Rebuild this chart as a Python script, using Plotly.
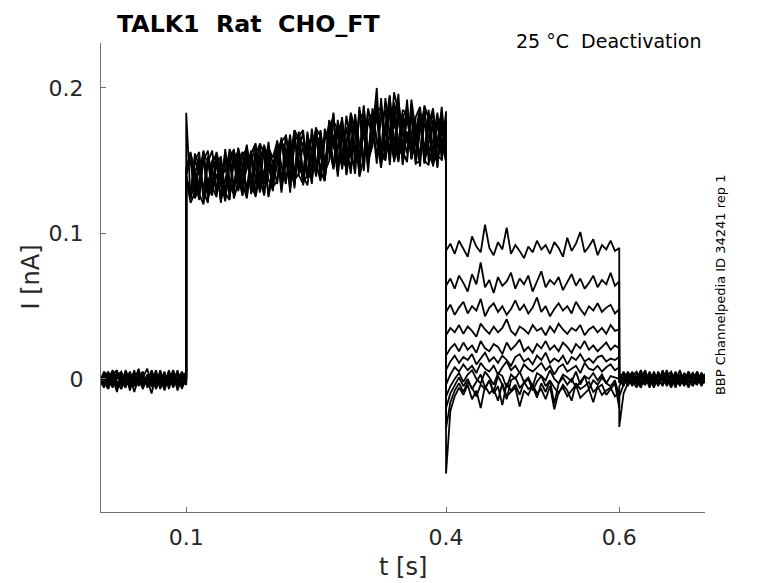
import numpy as np
import plotly.graph_objects as go

# sampling times (ms) of the four protocol segments, 5 ms apart
t_pre = np.arange(0, 101, 5)      # holding
t_step = np.arange(100, 401, 5)   # activating step
t_tail = np.arange(400, 601, 5)   # deactivation steps
t_post = np.arange(600, 701, 5)   # back to holding
t_ms = np.concatenate([t_pre, t_step, t_tail, t_post])

# current of each sweep, in pA
# (rows: holding 0-100 ms, step 100-400 ms, tail 400-600 ms, holding 600-700 ms)
sweep_01 = [
    -2, 4, -6, 1, -9, 3, -1, 5, -4, 0, -7, 2, -3, 6, -5, 1, -2, 4, -8, 2, 1,
    183, 124, 151, 140, 157, 126, 129, 152, 138, 122, 149,
    158, 131, 143, 160, 128, 155, 161, 127, 146, 133,
    147, 166, 136, 152, 171, 140, 134, 168, 155, 139,
    171, 148, 160, 183, 143, 177, 156, 145, 182, 161,
    151, 186, 168, 200, 149, 155, 190, 164, 152, 181,
    162, 183, 148, 150, 176, 165, 185, 146, 172, 158,
    88, 93, 86, 95, 89, 84, 98, 91, 87, 106, 90, 85, 94, 89, 104, 86, 92, 88, 83, 91,
    87, 95, 89, 92, 86, 94, 90, 84, 97, 88, 93, 101, 87, 91, 96, 85, 92, 89, 95, 88, 90,
    2, -3, 4, -1, -6, 3, 0, -4, 5, -2, 1, -5, 3, -1, 6, -3, 0, 4, -2, 2, -1,
]
sweep_02 = [
    3, -5, 0, -3, 5, -2, -6, 2, -1, 4, -4, 0, -10, 3, -2, -5, 5, -3, 0, -6, 3,
    145, 156, 137, 123, 153, 150, 129, 141, 124, 154, 133,
    127, 159, 146, 130, 155, 162, 138, 126, 157, 149,
    134, 163, 167, 145, 133, 158, 169, 139, 151, 172,
    141, 165, 174, 146, 158, 180, 140, 163, 176, 148,
    188, 153, 170, 182, 158, 150, 194, 165, 149, 180,
    186, 167, 151, 178, 183, 155, 147, 177, 163, 149,
    64, 69, 62, 71, 66, 60, 72, 65, 80, 63, 68, 59, 70, 64, 67, 73, 62, 69, 65, 71,
    60, 67, 74, 63, 68, 65, 70, 61, 67, 72, 64, 69, 62, 66, 71, 63, 68, 65, 73, 64, 67,
    -1, 5, -2, 3, -4, 0, 6, -3, 1, -5, 4, -1, -3, 5, -2, 1, -6, 2, 3, -4, 1,
]
sweep_03 = [
    -4, 1, 5, -2, -5, 0, 4, -8, 2, -3, 1, 7, -4, -1, 3, -6, 0, -2, 5, -4, -1,
    138, 121, 128, 147, 152, 134, 126, 156, 143, 123, 148,
    155, 139, 126, 153, 132, 145, 160, 157, 125, 141,
    162, 133, 148, 168, 137, 141, 163, 154, 135, 170,
    153, 142, 178, 166, 146, 151, 181, 159, 141, 185,
    166, 154, 179, 191, 149, 171, 157, 197, 183, 148,
    170, 153, 180, 187, 149, 162, 176, 145, 182, 156,
    46, 51, 44, 49, 53, 45, 50, 47, 55, 43, 49, 52, 46, 50, 44, 48, 54, 47, 51, 45,
    49, 56, 46, 50, 43, 48, 52, 47, 50, 45, 53, 48, 44, 50, 47, 52, 46, 49, 51, 45, 48,
    4, -1, 1, -5, 2, -3, 4, -1, -5, 3, 0, 6, -4, 0, -3, 4, -1, -5, 2, 0, -3,
]
sweep_04 = [
    1, -3, -1, 6, -2, -7, 1, -3, 6, -5, 2, -2, 4, -7, 0, 4, -5, 1, -3, 0, 5,
    141, 152, 140, 127, 120, 149, 157, 131, 136, 153, 124,
    150, 157, 135, 124, 148, 161, 131, 142, 163, 137,
    156, 164, 149, 136, 171, 165, 140, 133, 158, 173,
    137, 172, 158, 145, 178, 149, 162, 183, 171, 139,
    152, 185, 176, 148, 193, 160, 156, 189, 150, 172,
    184, 155, 168, 146, 188, 179, 154, 149, 175, 160,
    30, 35, 32, 37, 31, 36, 33, 29, 38, 34, 31, 36, 32, 35, 41, 33, 30, 36, 34, 31,
    37, 33, 35, 30, 36, 32, 38, 34, 31, 35, 33, 37, 30, 34, 36, 32, 35, 31, 37, 33, 34,
    0, 3, -5, 2, 5, -2, -4, 3, 1, -3, 6, -2, 1, -6, 3, -1, 5, -2, -4, 3, 2,
]
sweep_05 = [
    -1, -6, 3, -4, 2, 5, -4, 0, -2, 7, -6, 3, -1, -4, 6, -3, 2, -6, 3, -2, -4,
    139, 125, 155, 146, 129, 121, 150, 154, 136, 127, 158,
    151, 130, 141, 156, 128, 135, 162, 155, 126, 147,
    160, 138, 152, 165, 131, 169, 158, 142, 137, 172,
    167, 142, 150, 177, 172, 144, 162, 180, 148, 187,
    143, 179, 165, 190, 150, 153, 185, 172, 196, 147,
    183, 162, 154, 181, 148, 175, 186, 153, 151, 177,
    16, 21, 24, 19, 25, 20, 23, 18, 26, 21, 19, 24, 22, 17, 25, 20, 23, 27, 19, 22,
    18, 24, 21, 26, 20, 23, 19, 25, 22, 18, 24, 21, 26, 20, 23, 19, 22, 25, 20, 23, 21,
    -3, 1, 3, -4, 0, 6, -2, 1, -6, 2, -1, 3, -5, 4, -1, -4, 2, 0, 5, -3, 0,
]
sweep_06 = [
    2, 0, -4, 4, -6, 1, -2, 3, -9, 1, 4, -5, 2, 0, -3, 5, -7, 3, -1, 5, 0,
    140, 154, 126, 137, 150, 157, 132, 125, 148, 142, 156,
    124, 135, 154, 158, 133, 126, 151, 160, 137, 130,
    164, 146, 134, 160, 140, 167, 171, 138, 155, 166,
    143, 136, 176, 158, 171, 152, 145, 179, 174, 140,
    181, 150, 162, 183, 187, 151, 169, 190, 154, 158,
    192, 151, 163, 184, 156, 177, 149, 160, 187, 153,
    6, 12, 16, 11, 15, 13, 17, 10, 14, 18, 12, 15, 11, 16, 13, 9, 15, 17, 12, 14,
    10, 16, 13, 18, 11, 14, 12, 16, 10, 15, 13, 17, 12, 14, 11, 15, 16, 12, 14, 13, 15,
    1, -5, 2, 0, -3, 4, 2, -6, 3, -1, -4, 2, 5, -3, 1, 0, -5, 3, -2, 4, -2,
]
sweep_07 = [
    -3, 5, 1, -6, 3, -4, 6, -1, 3, -4, 0, -3, 6, -2, 1, -8, 3, -4, 6, -7, 2,
    137, 127, 150, 156, 122, 138, 130, 147, 153, 128, 123,
    157, 143, 131, 160, 127, 153, 148, 135, 158, 129,
    161, 133, 155, 139, 168, 163, 135, 140, 172, 149,
    136, 165, 169, 146, 160, 173, 141, 181, 155, 148,
    176, 152, 183, 163, 145, 174, 150, 189, 181, 156,
    149, 192, 170, 153, 186, 157, 164, 183, 150, 176,
    -4, 3, 8, 5, 10, 6, 9, 4, 11, 7, 5, 9, 3, 8, 12, 6, 9, 4, 10, 7,
    5, 8, 11, 6, 9, 3, 8, 10, 5, 7, 9, 4, 11, 7, 6, 9, 5, 8, 10, 6, 8,
    -2, 4, -1, 5, -2, -5, 3, 0, 2, -4, 3, -3, 0, 4, -5, 2, 3, -3, 1, -5, 3,
]
sweep_08 = [
    0, -2, -7, 2, 0, 4, -5, 1, -3, 2, 5, -6, -2, 4, -7, 2, -1, 6, -2, 1, -3,
    143, 150, 124, 131, 156, 128, 145, 151, 121, 158, 137,
    130, 149, 126, 158, 140, 128, 154, 134, 159, 152,
    163, 134, 168, 150, 141, 170, 139, 167, 157, 142,
    170, 148, 163, 182, 144, 175, 159, 141, 178, 151,
    187, 154, 167, 180, 152, 173, 195, 149, 163, 185,
    182, 155, 170, 186, 150, 147, 178, 160, 183, 151,
    -12, -5, 0, 4, -2, 3, 6, 0, -3, 5, 1, -4, 4, 2, -6, 3, 0, 5, -2, 1,
    -5, 4, 2, -1, 6, 0, -3, 3, 1, -2, 5, -4, 2, 0, 4, -1, 3, -3, 2, 1, 0,
    3, -2, 0, -3, 4, 1, -4, 5, -2, 1, -5, 4, -2, 2, -1, -3, 5, -1, -3, 2, -1,
]
sweep_09 = [
    -5, 2, 4, -1, -3, -1, 3, -6, 4, -2, -3, 1, 3, -6, 2, -1, -4, 0, 3, -3, 2,
    139, 129, 141, 153, 125, 133, 148, 155, 122, 137, 151,
    128, 158, 133, 145, 157, 125, 139, 159, 154, 132,
    136, 163, 158, 128, 164, 146, 139, 170, 134, 167,
    163, 141, 174, 179, 147, 155, 173, 153, 144, 184,
    177, 150, 160, 186, 155, 193, 168, 150, 181, 158,
    188, 151, 170, 179, 156, 185, 146, 163, 180, 155,
    -20, -10, -4, 1, -5, 0, -7, -2, 3, -6, -1, -9, 2, -4, -14, -1, 1, -6, -3, 0,
    -8, -2, 2, -5, -1, -17, -3, 1, -4, 0, -6, -2, 2, -7, -1, -4, 1, -3, -5, -1, -12,
    -5, 0, 5, -2, 1, -4, 3, -2, 4, -3, 2, 0, -6, 3, 2, -5, 1, 4, -2, -1, 4,
]
sweep_10 = [
    2, -4, -2, 3, 6, -5, 0, 4, -5, -1, 3, -2, -5, 1, 4, -4, 6, -5, -2, 3, -2,
    141, 155, 143, 128, 152, 124, 136, 149, 132, 156, 126,
    153, 129, 145, 161, 134, 156, 128, 142, 157, 133,
    160, 130, 151, 162, 135, 162, 133, 155, 166, 140,
    169, 137, 163, 144, 170, 178, 144, 158, 175, 150,
    170, 146, 186, 163, 149, 176, 184, 152, 191, 168,
    155, 183, 148, 170, 187, 149, 158, 180, 176, 154,
    -34, -16, -8, -3, -9, -2, -6, -12, -4, -7, -1, -10, -5, -18, -3, -8, -4, -11, -2, -7,
    -5, -13, -3, -9, -1, -6, -10, -4, -8, -15, -3, -7, -5, -2, -9, -6, -4, -11, -7, -3, -20,
    -12, -4, 2, 4, -3, 2, -1, 4, -4, 5, -2, -3, 4, -4, 3, 1, -2, -4, 5, -3, -2,
]
sweep_11 = [
    -1, 3, 0, -5, 1, 2, -3, -4, 1, 5, -1, -4, 1, -3, -4, 3, -2, 2, -5, -1, 0,
    140, 124, 135, 148, 130, 153, 143, 127, 151, 124, 155,
    132, 149, 156, 125, 155, 138, 130, 161, 147, 136,
    156, 128, 159, 131, 163, 150, 137, 161, 143, 165,
    158, 136, 173, 165, 139, 168, 149, 174, 161, 146,
    180, 142, 177, 153, 179, 185, 147, 182, 160, 155,
    150, 189, 162, 153, 185, 180, 148, 177, 157, 184,
    -65, -22, -12, -6, -11, -4, -14, -8, -20, -5, -10, -7, -15, -3, -12, -9, -6, -19, -8, -11,
    -4, -10, -7, -14, -5, -21, -9, -6, -12, -8, -4, -13, -10, -7, -16, -5, -11, -8, -6, -12, -9,
    -33, -10, -3, 1, -2, -6, 3, -2, 0, -1, 3, -4, 1, -2, -4, 4, -3, 2, -1, 4, 0,
]

sweeps = [sweep_01, sweep_02, sweep_03, sweep_04, sweep_05, sweep_06,
          sweep_07, sweep_08, sweep_09, sweep_10, sweep_11]

x_ticks = [0.1, 0.4, 0.6]
x_tick_labels = ["0.1", "0.4", "0.6"]
y_ticks = [0, 0.1, 0.2]
y_tick_labels = ["0", "0.1", "0.2"]

FONT = "DejaVu Sans"
AXIS_GREY = "#6e6e6e"
TEXT_GREY = "#262626"

fig = go.Figure()
for sw in sweeps:
    assert len(sw) == len(t_ms), len(sw)
    fig.add_trace(go.Scatter(
        x=t_ms / 1000.0,
        y=np.array(sw) / 1000.0,   # pA -> nA
        mode="lines",
        line=dict(color="black", width=1.8),
        showlegend=False,
        hoverinfo="skip",
    ))

axis_common = dict(
    showline=True, linecolor=AXIS_GREY, linewidth=1,
    ticks="inside", ticklen=5, tickcolor=AXIS_GREY, tickwidth=1,
    showgrid=False, zeroline=False, mirror=False,
    tickfont=dict(family=FONT, size=22, color=TEXT_GREY),
    tickmode="array",
)

# the page body adds 8 px around the figure, so the figure is 8 px smaller
fig.update_layout(
    width=770, height=575,
    margin=dict(l=93, r=73, t=35, b=71),
    plot_bgcolor="white", paper_bgcolor="white",
    font=dict(family=FONT),
    xaxis=dict(range=[0.0016, 0.699], tickvals=x_ticks, ticktext=x_tick_labels,
               ticklabelstandoff=6, **axis_common),
    yaxis=dict(range=[-0.0915, 0.2309], tickvals=y_ticks, ticktext=y_tick_labels,
               ticklabelstandoff=12, **axis_common),
    annotations=[
        dict(text="<b>TALK1  Rat  CHO_FT</b>", xref="paper", yref="paper",
             x=0.023, y=1.041, xanchor="left", yanchor="middle", showarrow=False,
             font=dict(family=FONT, size=23.7, color="black")),
        dict(text="25 °C  Deactivation", xref="paper", yref="paper",
             x=0.997, y=1.005, xanchor="right", yanchor="middle", showarrow=False,
             font=dict(family=FONT, size=19, color="black")),
        dict(text="BBP Channelpedia ID 34241 rep 1", xref="paper", yref="paper",
             x=1.025, y=0.484, xanchor="center", yanchor="middle", showarrow=False,
             textangle=-90, font=dict(family=FONT, size=13, color="black")),
        dict(text="I [nA]", xref="paper", yref="paper",
             x=-0.1175, y=0.5, xanchor="center", yanchor="middle", showarrow=False,
             textangle=-90, font=dict(family=FONT, size=24, color=TEXT_GREY)),
        dict(text="t [s]", xref="paper", yref="paper",
             x=0.5, y=-0.117, xanchor="center", yanchor="middle", showarrow=False,
             font=dict(family=FONT, size=24, color=TEXT_GREY)),
    ],
)

fig.write_html("out.html")
